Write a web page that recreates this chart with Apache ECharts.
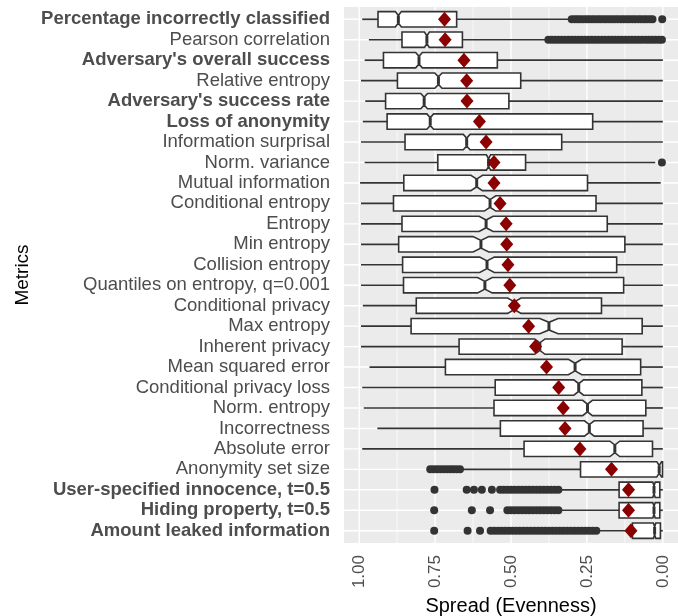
<!DOCTYPE html>
<html>
<head>
<meta charset="utf-8">
<script src="https://cdn.jsdelivr.net/npm/echarts@6/dist/echarts.min.js"></script>
<style>
html,body{margin:0;padding:0;background:#fff;}
#chart{width:678px;height:616px;}
</style>
</head>
<body>
<div id="chart"></div>
<script>
// ---- Data (top row first) ----
const categories = [
  "Percentage incorrectly classified",
  "Pearson correlation",
  "Adversary's overall success",
  "Relative entropy",
  "Adversary's success rate",
  "Loss of anonymity",
  "Information surprisal",
  "Norm. variance",
  "Mutual information",
  "Conditional entropy",
  "Entropy",
  "Min entropy",
  "Collision entropy",
  "Quantiles on entropy, q=0.001",
  "Conditional privacy",
  "Max entropy",
  "Inherent privacy",
  "Mean squared error",
  "Conditional privacy loss",
  "Norm. entropy",
  "Incorrectness",
  "Absolute error",
  "Anonymity set size",
  "User-specified innocence, t=0.5",
  "Hiding property, t=0.5",
  "Amount leaked information"
];
const boldCategories = [
  "Percentage incorrectly classified",
  "Adversary's overall success",
  "Adversary's success rate",
  "Loss of anonymity",
  "User-specified innocence, t=0.5",
  "Hiding property, t=0.5",
  "Amount leaked information"
];
// whisker end (high spread side, left)
const upperWhisker = [0.990,0.968,0.982,0.994,0.980,0.988,0.994,0.982,0.997,0.994,0.994,0.994,0.994,0.994,0.988,0.994,0.994,0.966,0.990,0.985,0.940,0.990,0.668,0.339,0.339,0.218];
const upperHinge   = [0.938,0.859,0.920,0.874,0.913,0.908,0.849,0.741,0.853,0.887,0.859,0.870,0.857,0.854,0.812,0.829,0.671,0.716,0.552,0.556,0.535,0.457,0.271,0.144,0.144,0.100];
const medians      = [0.871,0.777,0.803,0.739,0.786,0.766,0.646,0.574,0.613,0.569,0.582,0.599,0.579,0.586,0.489,0.375,0.405,0.289,0.277,0.248,0.242,0.158,0.012,0.029,0.029,0.027];
const lowerHinge   = [0.679,0.660,0.545,0.468,0.507,0.231,0.333,0.452,0.248,0.220,0.183,0.125,0.152,0.129,0.202,0.068,0.134,0.073,0.069,0.056,0.065,0.034,0.001,0.010,0.010,0.008];
const lowerWhisker = [0.300,0.377,0.000,0.000,0.000,0.000,0.000,0.025,0.007,0.000,0.000,0.000,0.000,0.000,0.000,0.000,0.000,0.000,0.000,0.000,0.000,0.000,0.001,0.000,0.000,0.000];
const notchHalf    = [0.010,0.008,0.011,0.012,0.011,0.011,0.011,0.007,0.019,0.019,0.023,0.026,0.024,0.024,0.022,0.030,0.017,0.022,0.016,0.016,0.016,0.016,0.008,0.004,0.004,0.004];
const means        = [0.719,0.717,0.655,0.646,0.645,0.604,0.582,0.556,0.556,0.536,0.516,0.514,0.510,0.504,0.489,0.442,0.419,0.383,0.343,0.328,0.322,0.273,0.169,0.113,0.113,0.105];

// outliers per row
const outliersPercentage = [0.300,0.290,0.281,0.272,0.262,0.252,0.243,0.233,0.224,0.214,0.205,0.195,0.186,0.176,0.167,0.157,0.148,0.138,0.129,0.119,0.110,0.100,0.091,0.081,0.072,0.062,0.053,0.043,0.034,0.002];
const outliersPearson = [0.377,0.366,0.355,0.344,0.333,0.322,0.311,0.300,0.289,0.278,0.267,0.256,0.245,0.234,0.223,0.212,0.201,0.190,0.179,0.168,0.157,0.146,0.135,0.124,0.113,0.102,0.091,0.080,0.069,0.057,0.046,0.035,0.024,0.013,0.003];
const outliersNormVariance = [0.003];
const outliersAnonymity = [0.766,0.755,0.744,0.733,0.722,0.711,0.700,0.690,0.679,0.668];
const outliersUserSpecified = [0.752,0.646,0.622,0.596,0.563,0.536,0.524,0.512,0.500,0.488,0.476,0.464,0.452,0.440,0.428,0.416,0.404,0.392,0.380,0.368,0.356,0.344];
const outliersHiding = [0.753,0.629,0.569,0.512,0.500,0.488,0.476,0.464,0.452,0.440,0.428,0.416,0.404,0.392,0.380,0.368,0.356,0.344];
const outliersAmountLeaked = [0.753,0.643,0.602,0.567,0.555,0.543,0.531,0.519,0.507,0.495,0.483,0.471,0.459,0.447,0.435,0.423,0.411,0.399,0.387,0.375,0.363,0.351,0.339,0.327,0.315,0.303,0.291,0.279,0.267,0.255,0.243,0.231,0.219];

const xTickValues = [0, 0.25, 0.5, 0.75, 1];
const xMinorValues = [0.125, 0.375, 0.625, 0.875];

// ---- Build series data ----
const boxData = categories.map((c, i) => [i, upperWhisker[i], upperHinge[i], medians[i], lowerHinge[i], lowerWhisker[i], notchHalf[i]]);
const meanData = categories.map((c, i) => [means[i], i]);
const outlierGroups = [
  [0, outliersPercentage],
  [1, outliersPearson],
  [7, outliersNormVariance],
  [22, outliersAnonymity],
  [23, outliersUserSpecified],
  [24, outliersHiding],
  [25, outliersAmountLeaked]
];
const outlierData = [];
outlierGroups.forEach(([row, vals]) => vals.forEach(v => outlierData.push([v, row])));

const Y_MIN = -0.6, Y_MAX = categories.length - 0.4;
const X_MIN = -0.05, X_MAX = 1.05;
const FONT = "'Liberation Sans', Arial, Helvetica, sans-serif";
const INK = '#333333';

const chart = echarts.init(document.getElementById('chart'), null, {renderer: 'canvas'});

function vGrid(width) {
  return function (params, api) {
    const v = api.value(0);
    const p1 = api.coord([v, Y_MIN]);
    const p2 = api.coord([v, Y_MAX]);
    return {type: 'line', shape: {x1: p1[0], y1: p1[1], x2: p2[0], y2: p2[1]},
            style: {stroke: '#ffffff', lineWidth: width}};
  };
}
function hGrid(params, api) {
  const r = api.value(1);
  const p1 = api.coord([X_MIN, r]);
  const p2 = api.coord([X_MAX, r]);
  return {type: 'line', shape: {x1: p1[0], y1: p1[1], x2: p2[0], y2: p2[1]},
          style: {stroke: '#ffffff', lineWidth: 1.4}};
}

function renderBox(params, api) {
  const r = api.value(0);
  const uw = api.value(1), uh = api.value(2), md = api.value(3), lh = api.value(4), lw = api.value(5), nh = api.value(6);
  const X = v => api.coord([v, r])[0];
  const yc = api.coord([md, r])[1];
  const band = api.size([0, 1])[1];
  const hh = band * 0.375;
  const xUW = X(uw), xUH = X(uh), xMd = X(md), xLH = X(lh), xLW = X(lw);
  const xNh = X(md + nh), xNl = X(md - nh);
  const pts = [
    [xUH, yc - hh], [xNh, yc - hh], [xMd, yc - hh / 2], [xNl, yc - hh], [xLH, yc - hh],
    [xLH, yc + hh], [xNl, yc + hh], [xMd, yc + hh / 2], [xNh, yc + hh], [xUH, yc + hh]
  ];
  return {
    type: 'group',
    children: [
      {type: 'line', shape: {x1: xUW, y1: yc, x2: xUH, y2: yc}, style: {stroke: INK, lineWidth: 1.7}},
      {type: 'line', shape: {x1: xLH, y1: yc, x2: xLW, y2: yc}, style: {stroke: INK, lineWidth: 1.7}},
      {type: 'polygon', shape: {points: pts}, style: {fill: '#ffffff', stroke: INK, lineWidth: 1.6, lineJoin: 'miter'}},
      {type: 'line', shape: {x1: xMd, y1: yc - hh / 2, x2: xMd, y2: yc + hh / 2}, style: {stroke: INK, lineWidth: 3}}
    ]
  };
}

const option = {
  animation: false,
  backgroundColor: '#ffffff',
  grid: {left: 344, right: 0, top: 7, bottom: 73, show: true, backgroundColor: '#EBEBEB', borderWidth: 0,
         containLabel: false, outerBoundsMode: 'none'},
  xAxis: {
    type: 'value', inverse: true, min: X_MIN, max: X_MAX,
    name: 'Spread (Evenness)', nameLocation: 'middle', nameGap: 50,
    nameTextStyle: {fontFamily: FONT, fontSize: 20, color: '#000000'},
    axisLine: {show: false}, axisTick: {show: false}, splitLine: {show: false},
    axisLabel: {
      customValues: xTickValues, rotate: 90, margin: 12,
      fontFamily: FONT, fontSize: 17, color: '#4D4D4D',
      formatter: v => Number(v).toFixed(2)
    }
  },
  yAxis: {
    type: 'value', inverse: true, min: Y_MIN, max: Y_MAX,
    name: 'Metrics', nameLocation: 'middle', nameGap: 312, nameRotate: 90,
    nameTextStyle: {fontFamily: FONT, fontSize: 19, color: '#000000'},
    axisLine: {show: false}, axisTick: {show: false}, splitLine: {show: false},
    axisLabel: {
      customValues: categories.map((c, i) => i), margin: 14,
      fontFamily: FONT, fontSize: 18.5, color: '#4D4D4D',
      formatter: v => {
        const name = categories[Math.round(v)];
        if (name === undefined) return '';
        return boldCategories.indexOf(name) >= 0 ? '{b|' + name + '}' : name;
      },
      rich: {b: {fontFamily: FONT, fontSize: 18.5, fontWeight: 'bold', color: '#4D4D4D'}}
    }
  },
  series: [
    {type: 'custom', silent: true, z: 1, data: xMinorValues.map(v => [v, 0]), renderItem: vGrid(0.7), encode: {x: 0, y: 1}},
    {type: 'custom', silent: true, z: 1, data: xTickValues.map(v => [v, 0]), renderItem: vGrid(1.4), encode: {x: 0, y: 1}},
    {type: 'custom', silent: true, z: 1, data: categories.map((c, i) => [0.5, i]), renderItem: hGrid, encode: {x: 0, y: 1}},
    {type: 'custom', z: 2, data: boxData, renderItem: renderBox, encode: {x: [1, 2, 3, 4, 5], y: 0}},
    {type: 'scatter', z: 3, data: outlierData, symbol: 'circle', symbolSize: 8, itemStyle: {color: INK, opacity: 1}},
    {type: 'scatter', z: 4, data: meanData, symbol: 'diamond', symbolSize: [13, 15], itemStyle: {color: '#8B0000', opacity: 1}}
  ]
};
chart.setOption(option);
</script>
</body>
</html>
